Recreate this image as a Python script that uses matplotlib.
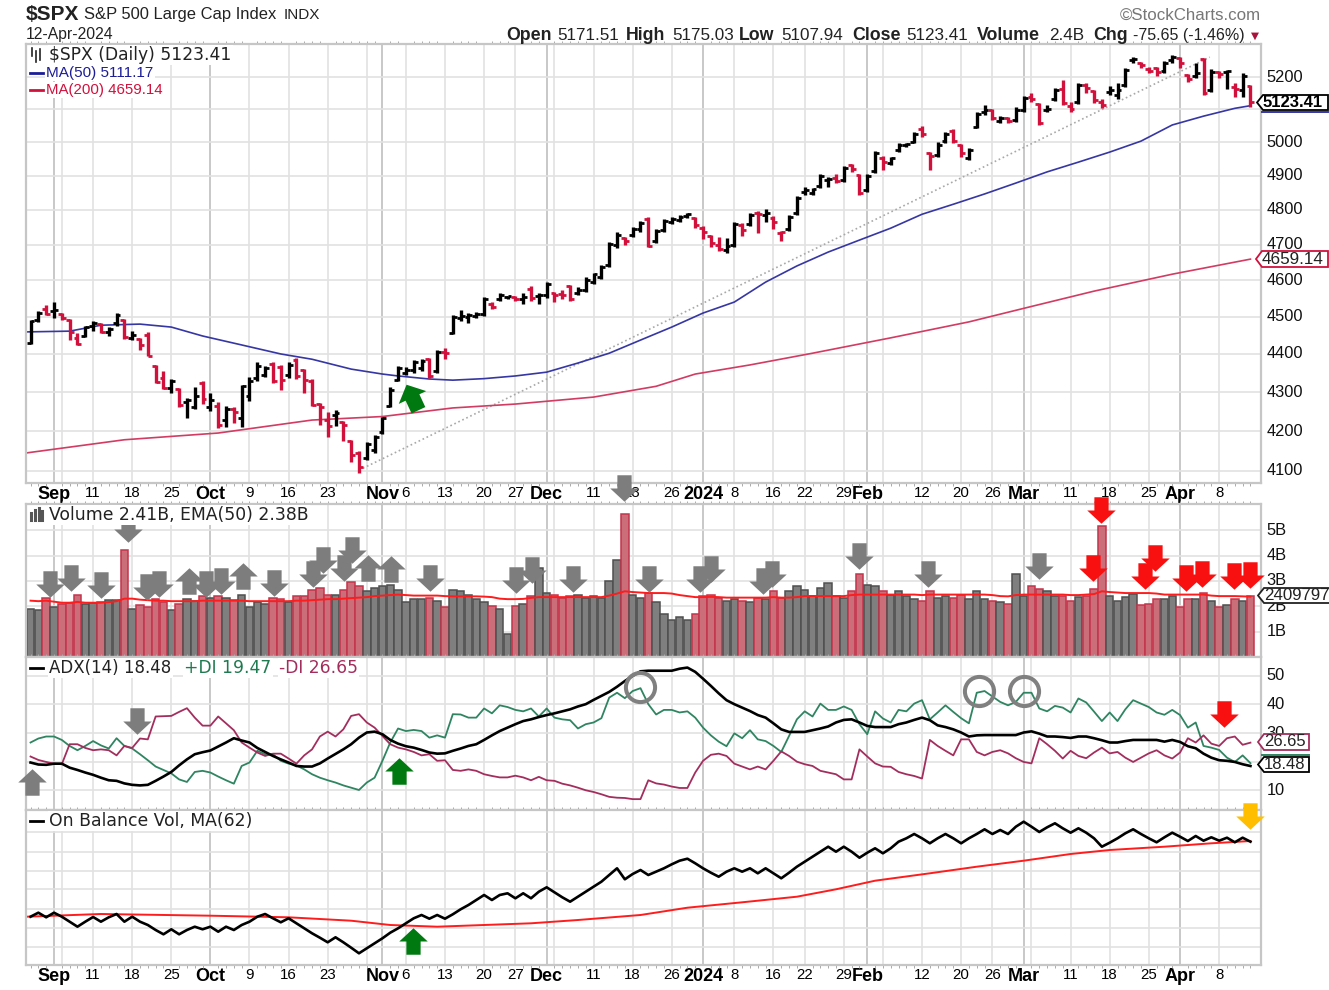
import matplotlib
matplotlib.use('Agg')
import matplotlib.pyplot as plt
import numpy as np
from matplotlib.path import Path
from matplotlib.patches import Polygon
from matplotlib.lines import Line2D
from matplotlib.transforms import Affine2D, ScaledTranslation

W, H = 1329, 990

high = [4491,4515,4532,4540,4510,4494,4456,4475,4488,4483,
        4472,4510,4494,4461,4443,4459,4371,4355,4333,4310,
        4284,4312,4328,4297,4274,4264,4261,4318,4339,4379,
        4368,4379,4371,4379,4389,4360,4334,4272,4249,4254,
        4226,4178,4150,4173,4190,4237,4313,4368,4365,4384,
        4386,4389,4411,4416,4504,4518,4510,4513,4553,4540,
        4565,4557,4557,4565,4584,4565,4595,4568,4573,4587,
        4581,4609,4620,4642,4707,4736,4722,4750,4767,4779,
        4745,4773,4779,4785,4790,4779,4753,4727,4722,4719,
        4765,4762,4790,4796,4802,4782,4739,4785,4840,4866,
        4863,4904,4896,4904,4928,4934,4904,4904,4973,4958,
        4955,4997,4997,5030,5048,4970,5000,5030,5039,4994,
        4982,5091,5113,5100,5078,5075,5106,5141,5150,5119,
        5113,5166,5191,5122,5181,5181,5159,5131,5172,5181,
        5228,5263,5247,5231,5231,5250,5269,5263,5209,5244,
        5260,5225,5219,5222,5181,5213,5175.03]
low = [4426,4485,4505,4496,4491,4437,4424,4445,4461,4456,
       4448,4475,4440,4437,4411,4395,4323,4307,4297,4261,
       4233,4256,4269,4251,4209,4211,4220,4211,4276,4328,
       4339,4323,4305,4336,4334,4297,4264,4215,4185,4213,
       4175,4122,4095,4128,4145,4193,4261,4329,4344,4350,
       4355,4336,4350,4386,4453,4488,4483,4496,4502,4521,
       4543,4549,4543,4535,4543,4535,4551,4540,4548,4543,
       4559,4568,4590,4603,4637,4690,4699,4722,4736,4693,
       4705,4736,4759,4765,4776,4747,4716,4693,4682,4676,
       4693,4725,4753,4733,4765,4745,4710,4739,4785,4843,
       4843,4863,4866,4878,4881,4910,4843,4852,4907,4916,
       4931,4970,4985,4997,5015,4916,4955,4997,4997,4955,
       4946,5042,5082,5067,5057,5057,5060,5091,5122,5051,
       5091,5125,5113,5091,5116,5150,5119,5103,5144,5131,
       5169,5244,5228,5213,5203,5213,5244,5228,5184,5197,
       5144,5153,5197,5163,5138,5138,5107.94]
opens = [4428,4491,4521,4515,4507,4491,4443,4448,4475,4480,
         4459,4483,4491,4443,4440,4451,4368,4336,4310,4307,
         4274,4261,4323,4261,4264,4228,4256,4233,4289,4336,
         4344,4373,4366,4344,4384,4358,4329,4269,4228,4241,
         4223,4175,4145,4133,4153,4198,4264,4331,4350,4358,
         4363,4386,4355,4406,4456,4496,4499,4501,4507,4535,
         4548,4554,4554,4548,4576,4557,4559,4565,4562,4584,
         4565,4573,4595,4609,4642,4699,4719,4727,4745,4773,
         4710,4742,4765,4770,4782,4776,4747,4725,4699,4685,
         4699,4756,4759,4790,4785,4776,4733,4745,4790,4852,
         4849,4869,4887,4893,4887,4931,4901,4858,4913,4952,
         4937,4976,4991,5000,5039,4967,4961,5003,5033,4991,
         4952,5045,5091,5097,5063,5073,5067,5097,5138,5116,
         5097,5131,5163,5110,5122,5175,5156,5122,5153,5144,
         5175,5253,5244,5225,5228,5219,5253,5260,5206,5203,
         5257,5159,5216,5216,5169,5159,5171.51]
close = [4488,4510,4507,4518,4496,4459,4426,4472,4483,4459,
         4467,4505,4445,4451,4424,4395,4326,4310,4330,4266,
         4279,4289,4281,4279,4216,4256,4248,4315,4330,4368,
         4363,4329,4331,4371,4342,4331,4266,4261,4213,4246,
         4215,4140,4110,4168,4185,4232,4305,4363,4358,4379,
         4381,4342,4406,4402,4499,4501,4505,4507,4548,4526,
         4559,4557,4548,4554,4551,4559,4590,4559,4559,4548,
         4573,4600,4617,4637,4702,4727,4710,4745,4762,4696,
         4739,4767,4773,4779,4787,4756,4736,4705,4688,4696,
         4759,4742,4785,4787,4790,4765,4736,4779,4834,4858,
         4860,4899,4890,4884,4922,4919,4849,4899,4967,4940,
         4952,4991,4994,5024,5024,4958,4991,5024,5003,4967,
         4976,5085,5097,5073,5073,5063,5097,5134,5131,5057,
         5100,5159,5119,5100,5175,5166,5128,5113,5159,5159,
         5222,5257,5238,5219,5216,5244,5263,5244,5194,5213,
         5150,5216,5209,5219,5163,5203,5123.41]
down_bars = [2,4,5,6,9,12,14,15,16,17,19,22,24,26,31,32,34,35,36,37,38,40,41,42,
             51,53,59,62,64,67,68,69,76,79,85,86,87,88,91,93,95,96,103,105,106,109,
             114,115,118,119,123,125,128,129,132,133,135,136,137,142,143,144,147,148,
             150,152,154,156]

ma50_x = [-0.5,5,9,14,18,22,27,32,36,41,45,47,51,54,58,62,66,70,74,78,82,86,90,94,98,
          102,106,110,114,118,122,126,130,134,138,142,146,150,154,156]
ma50 = [4459,4461,4477,4480,4472,4448,4424,4400,4386,4360,4347,4342,4334,4331,4335,4342,
        4352,4376,4402,4437,4472,4510,4540,4595,4640,4679,4713,4747,4787,4816,4846,4878,
        4911,4940,4970,5003,5052,5079,5103,5111.17]
ma200_x = [-0.5,12,24,36,45,54,62,72,80,85,92,100,110,120,128,136,146,156]
ma200 = [4145,4178,4195,4228,4237,4259,4269,4287,4315,4347,4371,4402,4443,4486,4528,4570,4617,4659.14]
trend_x = [42,150.8]
trend_y = [4102,5263]

volume = [1.90,1.85,2.32,1.97,2.08,2.12,2.46,2.10,2.12,2.15,
          2.26,2.26,4.21,1.89,2.03,1.97,2.28,2.18,1.85,2.08,
          2.27,2.22,2.40,2.34,2.40,2.34,2.23,2.46,1.97,2.16,
          2.08,2.34,2.27,2.15,2.39,2.39,2.66,2.71,2.46,2.44,
          2.66,2.96,2.78,2.59,2.72,2.78,2.84,2.66,2.15,2.28,
          2.28,2.34,2.20,1.97,2.66,2.59,2.46,2.28,2.15,2.02,
          1.90,0.89,2.02,2.08,2.39,3.52,2.52,2.46,2.32,2.39,
          2.46,2.32,2.39,2.32,3.01,3.82,5.64,2.46,2.32,2.51,
          2.15,1.70,1.46,1.58,1.46,1.71,2.39,2.46,2.32,2.22,
          2.27,2.22,2.15,2.32,2.27,2.59,2.32,2.59,2.78,2.66,
          2.39,2.72,2.91,2.39,2.32,2.59,3.27,2.84,2.78,2.59,
          2.46,2.59,2.42,2.27,2.22,2.59,2.32,2.42,2.32,2.44,
          2.27,2.59,2.27,2.22,2.15,2.10,3.28,2.42,2.79,2.67,
          2.59,2.40,2.42,2.20,2.35,2.39,2.67,5.15,2.40,2.22,
          2.35,2.50,2.03,2.10,2.28,2.28,2.42,1.98,2.28,2.28,
          2.52,2.22,1.98,2.03,2.28,2.22,2.41]
ema50 = [2.22,2.20,2.22,2.18,2.14,2.14,2.17,2.14,2.14,2.14,
         2.16,2.20,2.30,2.30,2.26,2.24,2.22,2.22,2.20,2.20,
         2.20,2.20,2.22,2.22,2.22,2.22,2.22,2.22,2.20,2.20,
         2.20,2.20,2.20,2.20,2.22,2.22,2.24,2.26,2.28,2.28,
         2.30,2.32,2.34,2.36,2.40,2.42,2.44,2.46,2.44,2.42,
         2.42,2.42,2.42,2.40,2.39,2.39,2.39,2.39,2.38,2.36,
         2.30,2.28,2.28,2.29,2.33,2.36,2.36,2.36,2.36,2.36,
         2.36,2.36,2.36,2.36,2.42,2.50,2.59,2.56,2.54,2.52,
         2.52,2.52,2.50,2.44,2.40,2.36,2.36,2.37,2.36,2.34,
         2.34,2.34,2.34,2.34,2.34,2.36,2.34,2.34,2.36,2.40,
         2.40,2.40,2.40,2.40,2.40,2.44,2.46,2.46,2.46,2.46,
         2.46,2.46,2.46,2.46,2.44,2.46,2.46,2.46,2.46,2.46,
         2.46,2.46,2.46,2.44,2.40,2.39,2.44,2.46,2.46,2.46,
         2.46,2.46,2.46,2.44,2.44,2.46,2.48,2.59,2.56,2.54,
         2.52,2.52,2.52,2.52,2.50,2.46,2.46,2.46,2.46,2.46,
         2.46,2.42,2.40,2.40,2.40,2.39,2.38]

plus_di = [26.7,28.1,28.8,28.8,27.6,25.5,24.0,25.5,27.2,25.7,
           24.6,28.2,25.5,24.6,22.6,20.5,18.3,17.1,15.9,13.8,
           12.9,16.4,16.8,16.2,14.8,13.5,12.3,18.5,19.7,23.8,
           22.6,22.6,20.3,19.3,18.7,17.3,15.6,14.4,13.5,12.7,
           11.7,10.9,10.1,12.7,14.4,20.3,26.7,31.6,30.7,31.1,
           30.7,28.4,29.2,28.4,36.6,36.5,35.4,35.4,38.6,36.9,
           39.7,39.1,38.1,37.6,38.6,35.8,38.6,35.4,34.8,34.5,
           31.6,33.1,33.7,35.2,42.4,44.1,42.2,44.7,45.7,40.1,
           36.5,38.1,38.1,37.2,37.6,35.4,31.9,29.2,27.0,25.4,
           29.9,28.2,31.0,27.8,27.2,25.5,23.4,29.0,34.8,37.6,
           35.8,40.3,38.1,38.1,39.3,38.1,33.1,29.6,37.6,35.1,
           33.7,38.1,37.6,40.3,41.5,34.8,37.2,39.7,37.4,35.2,
           33.4,44.1,44.7,42.8,40.9,39.7,40.9,44.1,44.1,38.6,
           37.6,39.5,38.9,37.2,42.1,40.7,37.5,34.2,37.2,34.2,
           38.3,41.5,40.3,39.1,37.2,36.4,38.1,36.3,31.9,33.7,
           25.5,24.9,24.1,21.4,19.9,22.2,19.47]
minus_di = [21.8,20.6,19.9,19.3,19.1,26.1,26.1,24.8,24.0,24.3,
            24.0,22.2,25.5,24.8,28.1,27.8,35.8,35.9,36.0,37.4,
            38.7,35.4,32.6,32.6,35.8,33.4,31.0,26.7,24.9,23.2,
            22.0,22.8,22.8,21.1,19.3,22.2,24.3,28.8,30.5,28.8,
            31.3,36.0,36.6,33.7,31.9,29.0,26.1,24.9,24.3,23.4,
            22.2,22.6,20.3,20.5,17.1,16.8,17.3,16.8,15.6,15.0,
            14.5,14.5,15.1,14.5,13.5,14.7,13.5,13.3,12.3,11.7,
            10.9,10.0,9.4,8.6,7.7,7.4,7.3,6.9,6.9,13.5,
            12.4,12.0,11.3,10.8,10.8,16.2,20.3,22.4,22.8,22.0,
            19.3,18.3,17.3,18.3,17.3,20.3,23.6,22.0,20.0,19.1,
            18.5,16.8,16.2,15.6,13.8,13.8,24.3,21.8,19.4,18.3,
            18.2,16.4,15.6,15.0,14.1,27.6,25.5,23.8,22.2,27.8,
            27.8,23.4,22.2,23.4,24.0,22.9,21.2,19.9,19.4,28.2,
            26.1,23.8,21.1,23.8,22.0,21.2,23.2,24.9,22.9,23.4,
            21.4,19.9,21.4,22.9,24.0,22.2,21.1,23.2,28.2,26.7,
            29.2,26.3,25.5,28.2,28.8,25.9,26.65]
adx = [19.7,19.0,18.9,19.3,19.3,17.9,17.1,16.2,15.4,14.4,
       13.5,13.3,12.4,11.9,11.7,11.9,13.3,14.8,16.4,18.7,
       20.8,22.6,23.3,23.9,25.3,26.7,28.2,27.4,26.7,24.8,
       23.4,22.0,20.8,19.7,18.5,18.3,18.3,19.4,21.1,22.7,
       24.3,26.1,28.4,30.2,30.5,29.6,27.6,26.3,25.4,24.9,
       24.1,23.2,22.8,22.9,23.8,24.6,25.5,26.1,27.6,29.2,
       30.7,31.9,33.1,34.2,34.8,35.6,36.3,36.9,37.6,38.3,
       39.3,40.1,41.6,43.0,44.4,46.2,48.2,50.0,51.6,51.8,
       51.8,51.8,51.8,52.5,52.9,51.4,49.0,46.5,43.9,41.5,
       40.1,38.9,37.7,36.3,35.4,33.4,31.3,30.4,30.4,30.4,
       31.0,31.6,32.3,33.7,34.6,34.8,33.7,32.5,32.1,32.1,
       32.1,33.1,33.7,34.6,35.4,34.5,32.7,32.1,31.3,30.2,
       28.8,29.2,29.3,29.3,29.3,29.3,29.3,30.2,30.6,29.8,
       28.8,28.8,28.6,28.3,28.8,28.8,28.2,27.5,26.7,26.7,
       27.2,27.6,27.6,27.6,27.6,27.0,27.6,26.9,25.4,24.7,
       22.8,21.4,20.5,20.3,19.9,19.1,18.48]

obv = [47.3,51.3,46.7,51.3,47.3,42.3,37.3,42.3,47,42.3,
       46.7,50,42.3,47.3,42.3,39,34,29.7,34.7,29.7,
       34,37.3,34.7,37.3,32.3,37.3,34,39,42.3,47.3,
       50,45.7,41.7,45.7,40.7,35.7,30.7,26.3,21.7,26.7,
       21.7,16.3,10.7,15.7,20.7,25.7,31.3,35.7,40.7,45.7,
       49,45.3,49,45.3,49.7,54.7,59,64,69,64,
       69,70.7,65.7,70.7,65.7,72.3,76.7,71.7,66.7,62.3,
       67.3,72.3,77.3,82.3,89,95.7,84.7,90,94,89,
       92.3,95.7,99.7,103.3,105.3,100.7,95.7,91.3,87.3,92.3,
       95.7,92.3,95.7,90.7,95.7,90.7,85.7,91.3,97.3,102.3,
       107.3,112.3,117.3,112.3,117.3,112.3,106.3,111.3,115.7,110.7,
       115.7,122.3,125.7,130,125.7,120.7,125.7,130,125.7,120.7,
       125.7,130,134.7,130,134,130,137.3,142.3,137.3,132,
       136.7,140.7,135.7,131.3,135.7,131.3,125.7,117.3,121.3,125.7,
       130.7,134.7,130,125.7,121.7,126.7,131.3,127.3,123,128,
       123.3,126.7,123.3,126.3,121.7,126.3,122.3]
obv_ma_x = [-0.5,9,23,33,41,46,52,64,70,78,84,91,98,103,108,115,121,127,133,138,145,151,156]
obv_ma = [47.3,50,48.3,46.7,43.3,39,37.3,40.7,44,49,56.3,61.7,67.3,74.7,83.3,90.7,97.3,103.3,110,114,117.3,120.7,123]

date_idx = [3,8,13,18,23,28,33,38,45,48,53,58,62,66,72,77,82,86,90,95,99,104,107,114,119,123,127,133,138,143,147,152]
date_labels = ['Sep','11','18','25','Oct','9','16','23','Nov','6','13','20','27','Dec','11','18','26',
               '2024','8','16','22','29','Feb','12','20','26','Mar','11','18','25','Apr','8']
bold_labels = ['Sep','Oct','Nov','Dec','2024','Feb','Mar','Apr']
extra_grid_idx = [4,43,67,109,128]
month_idx = [3,23,45,66,86,107,127,147]

price_ticks = [4100,4200,4300,4400,4500,4600,4700,4800,4900,5000,5100,5200]
price_labels = ['4100','4200','4300','4400','4500','4600','4700','4800','4900','5000','','5200']
vol_ticks = [1,2,3,4,5]
vol_labels = ['1B','2B','3B','4B','5B']
adx_ticks = [10,20,30,40,50]
adx_labels = ['10','','30','40','50']
obv_ticks = [17,36,55,75,93,112,132]

# annotation arrows, volume panel
vol_down_x = [2.5,5.2,9,12.4,14.9,16.4,22.4,24.3,31.1,36.1,37.4,40.1,41.1,51.1,62.1,64.1,69.4,75.9,79.1,85.6,87,93.7,94.8,106,114.8,129]
vol_down_y = [2.89,3.13,2.85,5.04,2.77,2.89,2.89,3.0,2.93,3.29,3.81,3.49,4.2,3.1,3.04,3.44,3.08,6.67,3.08,3.08,3.48,2.98,3.29,3.97,3.29,3.6]
vol_up_x = [20.3,27.2,43.1,46.1]
vol_up_y = [3.0,3.2,3.49,3.45]
vol_red_x = [136.9,135.9,142.5,143.8,147.8,149.8,153.9,155.9]
vol_red_y = [5.8,3.49,3.21,3.89,3.13,3.29,3.21,3.25]

GRID = '#e2e2e2'
GRID_DARK = '#c4c4c4'
FRAME = '#c6c6c6'
RED = '#d2103c'
XLIM = (-0.58, 157.35)

plt.rcParams['font.family'] = ['Liberation Sans', 'DejaVu Sans']


def make_axes(top, bottom):
    ax = fig.add_axes([26.0/W, 1-bottom/H, 1235.0/W, (bottom-top)/H])
    ax.set_xlim(*XLIM)
    for s in ax.spines.values():
        s.set_color(FRAME)
        s.set_linewidth(1.6)
    ax.set_axisbelow(True)
    ax.yaxis.tick_right()
    ax.tick_params(axis='y', which='major', length=0, pad=4, labelsize=11.8, labelcolor='#111111')
    ax.tick_params(axis='x', which='major', length=0)
    ax.set_xticks(np.arange(0, 157), minor=True)
    ax.tick_params(axis='x', which='minor', length=2, width=0.7, color='#aaaaaa', top=True, bottom=True)
    ax.yaxis.grid(True, color=GRID, lw=1.2)
    for x in date_idx+extra_grid_idx:
        ax.axvline(x, color=GRID_DARK if x in month_idx else GRID, lw=1.3 if x in month_idx else 1.2, zorder=0.5)
    return ax


def lift_labels(ax):
    # right hand labels sit a bit above their gridlines
    shift = ScaledTranslation(0, 1.5/100.0, fig.dpi_scale_trans)
    for t in ax.get_yticklabels():
        t.set_transform(t.get_transform()+shift)


def date_axis(ax):
    ax.set_xticks(date_idx)
    ax.set_xticklabels(date_labels)
    ax.tick_params(axis='x', which='major', pad=2)
    for t in ax.get_xticklabels():
        if t.get_text() in bold_labels:
            t.set_fontweight('bold')
            t.set_fontsize(13)
        else:
            t.set_fontsize(10.8)


def ptext(x, y, s, **kw):
    kw.setdefault('va', 'center')
    return fig.text(x/W, 1-y/H, s, **kw)


def block_arrow(angle=0):
    verts = [(-0.5,0.93),(0.5,0.93),(0.5,0),(1,0),(0,-0.93),(-1,0),(-0.5,0),(-0.5,0.93)]
    p = Path(verts, closed=True)
    return p.transformed(Affine2D().rotate_deg(angle))


def arrows(ax, x, y, color, angle=0, size=20.5):
    ax.plot(x, y, ls='none', marker=block_arrow(angle), ms=size, mfc=color, mec='none', clip_on=False, zorder=6)


def value_tag(x0, x1, y0, y1, s, edge, **kw):
    ym = (y0+y1)/2.0
    pts = [(x0,ym),(x0+6,y0),(x1,y0),(x1,y1),(x0+6,y1)]
    pts = [(a/W, 1-b/H) for a,b in pts]
    fig.add_artist(Polygon(pts, closed=True, fc='white', ec=edge, lw=1.3, transform=fig.transFigure, zorder=2))
    ptext(x0+6, ym, s, ha='left', zorder=4, **kw)


fig = plt.figure(figsize=(W/100.0, H/100.0), dpi=100)
x = np.arange(len(close))

################################################################################
ax1 = make_axes(44, 483)
ax1.set_yscale('log')
ax1.set_ylim(4070.4, 5305)
ax1.set_yticks(price_ticks)
ax1.set_yticklabels(price_labels)
ax1.yaxis.set_minor_locator(matplotlib.ticker.NullLocator())
date_axis(ax1)
lift_labels(ax1)

ax1.plot(trend_x, trend_y, ls=':', color='#a8a8a8', lw=1.2, zorder=1)
ax1.plot(ma200_x, ma200, color='#d23c62', lw=1.2, zorder=2)
ax1.plot(ma50_x, ma50, color='#3636a4', lw=1.2, zorder=2)

colors = [RED if i in down_bars else 'black' for i in x]
ax1.vlines(x, low, high, colors=colors, lw=2.4, zorder=3)
ax1.hlines(opens, x-0.5, x, colors=colors, lw=2.0, zorder=3)
ax1.hlines(close, x, x+0.5, colors=colors, lw=2.0, zorder=3)
arrows(ax1, [48.8], [4287], '#007a10', angle=-155, size=23)

################################################################################
ax2 = make_axes(504, 657)
ax2.set_ylim(0, 6.03)
ax2.set_yticks(vol_ticks)
ax2.set_yticklabels(vol_labels)
ax2.set_xticks([])
ax2.set_xticks(np.arange(0, 157), minor=True)
lift_labels(ax2)
face = ['#cc6e7a' if i in down_bars else '#7f7f7f' for i in x]
edge = ['#c4344a' if i in down_bars else '#4f4f4f' for i in x]
ax2.bar(x, volume, width=0.95, color=face, edgecolor=edge, linewidth=1.1, zorder=2)
ax2.plot(x, ema50, color='#ff1c1c', lw=1.4, zorder=3)
arrows(ax2, vol_down_x, vol_down_y, '#7d7d7d')
arrows(ax2, vol_up_x, vol_up_y, '#7d7d7d', angle=180)
arrows(ax2, vol_red_x, vol_red_y, '#f80f0f')

################################################################################
ax3 = make_axes(657, 810)
ax3.set_ylim(3.1, 56.6)
ax3.set_yticks(adx_ticks)
ax3.set_yticklabels(adx_labels)
ax3.set_xticks([])
ax3.set_xticks(np.arange(0, 157), minor=True)
lift_labels(ax3)
ax3.plot(x, plus_di, color='#2f8562', lw=1.3, zorder=2)
ax3.plot(x, minus_di, color='#a32e5e', lw=1.3, zorder=2)
ax3.plot(x, adx, color='black', lw=1.9, zorder=3)
arrows(ax3, [0.2], [12.8], '#7d7d7d', angle=180)
arrows(ax3, [13.6], [34.1], '#7d7d7d')
arrows(ax3, [47.1], [16.6], '#007a10', angle=180)
arrows(ax3, [152.6], [36.6], '#f80f0f')
ax3.plot([78,121.3,127], [46,44.6,44.6], ls='none', marker='o', ms=21, mfc='none', mec='#808080', mew=2.9, zorder=5)

################################################################################
ax4 = make_axes(810, 965)
ax4.set_ylim(-1, 154)
ax4.set_yticks(obv_ticks)
ax4.set_yticklabels([])
date_axis(ax4)
ax4.plot(obv_ma_x, obv_ma, color='#ff1c1c', lw=1.4, zorder=2)
ax4.plot(x, obv, color='black', lw=1.9, zorder=3)
arrows(ax4, [48.9], [23], '#007a10', angle=180)
arrows(ax4, [156], [148], '#ffbe00')

################################################################################
# header
ptext(26, 14, '$SPX', fontsize=15, fontweight='bold', color='#222222')
ptext(84, 15, 'S&P 500 Large Cap Index', fontsize=11.9, color='#222222')
ptext(284, 15, 'INDX', fontsize=11, color='#222222')
ptext(26, 35, '12-Apr-2024', fontsize=11.3, color='#222222')
ptext(1261, 15, '\u00a9StockCharts.com', fontsize=12.2, color='#777777', ha='right')
header_items = [(506,'Open',True),(557,'5171.51',False),(626,'High',True),(672,'5175.03',False),
                (739,'Low',True),(781,'5107.94',False),(852,'Close',True),(906,'5123.41',False),
                (977,'Volume',True),(1049,'2.4B',False),(1093,'Chg',True)]
for hx, hs, hb in header_items:
    ptext(hx, 35.5, hs, fontsize=12.8 if hb else 12.3, fontweight='bold' if hb else 'normal', color='#222222')
ptext(1133, 35.5, '-75.65 (-1.46%)', fontsize=11.5, color='#222222')
ptext(1255, 36, '\u25bc', fontsize=7.5, color='#a8123c', ha='center', family='DejaVu Sans')

# panel legends
box = dict(fc='white', ec='none', pad=1.0)
ptext(49, 55, '$SPX (Daily) 5123.41', fontsize=12.3, family='DejaVu Sans', color='#222222', bbox=box)
ptext(46, 73, 'MA(50) 5111.17', fontsize=11, color='#1c1c96', bbox=box)
ptext(46, 90, 'MA(200) 4659.14', fontsize=10.8, color='#d2103c', bbox=box)
ptext(49, 515, 'Volume 2.41B, EMA(50) 2.38B', fontsize=12.4, family='DejaVu Sans', color='#222222', bbox=box, zorder=0.5)
ptext(49, 668, 'ADX(14) 18.48', fontsize=12, family='DejaVu Sans', color='#222222', bbox=box)
ptext(184, 668, '+DI 19.47', fontsize=12.3, family='DejaVu Sans', color='#1f7a50', bbox=box)
ptext(279, 668, '-DI 26.65', fontsize=12.3, family='DejaVu Sans', color='#a32e5e', bbox=box)
ptext(49, 821, 'On Balance Vol, MA(62)', fontsize=12.4, family='DejaVu Sans', color='#222222', bbox=box)

legend_dashes = [(73,'#1c1c96'),(90,'#d2103c'),(668,'black'),(821,'black')]
for ly, lc in legend_dashes:
    fig.add_artist(Line2D([30/W,43/W], [1-ly/H,1-ly/H], color=lc, lw=2.0, transform=fig.transFigure))
# small panel icons
for ix, iy0, iy1 in [(32,48,56),(36,51,62),(40,49,60)]:
    fig.add_artist(Line2D([ix/W,ix/W], [1-iy0/H,1-iy1/H], color='#222222', lw=1.2, transform=fig.transFigure))
for ix, iy0 in [(31,513),(35,510),(39,508),(42,511)]:
    fig.add_artist(Line2D([ix/W,ix/W], [1-iy0/H,1-520/H], color='#555555', lw=2.2, transform=fig.transFigure))

# value tags on right edge
value_tag(1257, 1328, 95, 110, '5123.41', 'black', fontsize=12, fontweight='bold', color='black')
fig.add_artist(Line2D([1262/W,1328/W], [1-111.5/H,1-111.5/H], color='#3636a4', lw=1.4, transform=fig.transFigure))
value_tag(1256, 1328, 251, 267, '4659.14', '#d2103c', fontsize=12.3, color='#222222')
value_tag(1258, 1334, 588, 603, '2409797', '#222222', fontsize=12.2, color='#222222')
value_tag(1258, 1309, 734, 750, '26.65', '#a32e5e', fontsize=12, color='#222222')
fig.add_artist(Line2D([1262/W,1309/W], [1-754.5/H,1-754.5/H], color='#2f8562', lw=1.4, transform=fig.transFigure))
value_tag(1258, 1309, 757, 772, '18.48', 'black', fontsize=12, color='#222222')

plt.savefig('out.png', dpi=100)
